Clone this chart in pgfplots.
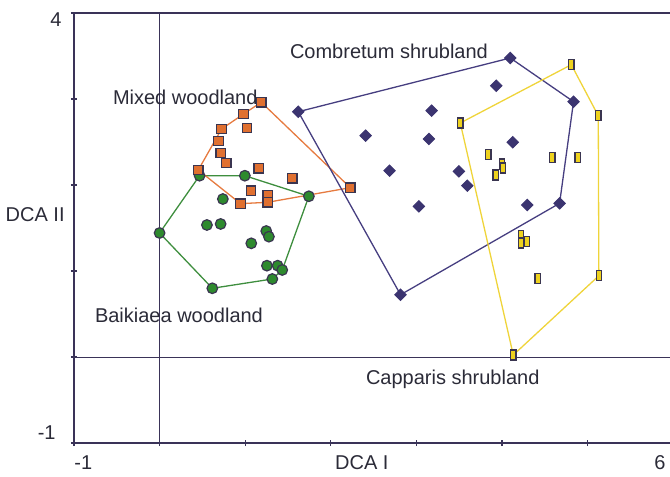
\documentclass[border=0pt]{standalone}
\usepackage{pgfplots}
\pgfplotsset{compat=1.18}
\usepackage{fontspec}
\setmainfont{Liberation Sans}
\definecolor{axc}{HTML}{3A3358}
\definecolor{txt}{HTML}{2B2B38}
\definecolor{orf}{HTML}{E07030}
\definecolor{orl}{HTML}{E67B40}
\definecolor{grf}{HTML}{2E8A2E}
\definecolor{grl}{HTML}{3E8E3E}
\definecolor{nvf}{HTML}{3B3470}
\definecolor{nvl}{HTML}{463E80}
\definecolor{ylf}{HTML}{EED21E}
\definecolor{yll}{HTML}{EFD43A}
\definecolor{mkb}{HTML}{3A3550}
\begin{document}
\begin{tikzpicture}
\begin{axis}[
  scale only axis, width=298pt, height=215pt,
  xmin=-1, xmax=5.963, ymin=-1, ymax=4,
  axis x line=box, axis y line=left,
  axis line style={-, draw=axc, line width=0.7pt},
  xtick={-1,0,1,2,3,4,5}, ytick={-1,0,1,2,3,4},
  xtick pos=bottom, ytick pos=left,
  tick align=center, major tick length=3pt,
  tick style={draw=axc, line width=0.6pt},
  xticklabels={}, yticklabels={},
  clip=false,
  font=\fontsize{10}{12}\selectfont,
]
% reference lines
\addplot[draw=axc, line width=0.4pt] coordinates {(0,-1) (0,4)};
\addplot[draw=axc, line width=0.4pt] coordinates {(-1,0) (5.963,0)};
% Baikiaea woodland hull
\addplot[draw=grl, line width=0.65pt] coordinates {
(0.467,2.108) (0.996,2.108) (1.744,1.869) (1.433,1.012) (1.317,0.907) (0.616,0.799) (0,1.442) (0.467,2.108)};
\addplot[only marks, mark=*, mark size=2.65pt, mark options={fill=grf, draw=mkb, line width=0.6pt}] coordinates {
(0.467,2.108) (0.996,2.108) (1.744,1.869) (0,1.442) (0.739,1.837) (0.553,1.535) (0.713,1.547)
(1.246,1.465) (1.277,1.399) (1.071,1.322) (1.254,1.062) (1.379,1.062) (1.433,1.012) (1.317,0.907) (0.616,0.799)};
% Mixed woodland hull
\addplot[draw=orl, line width=0.65pt] coordinates {
(0.452,2.174) (0.724,2.651) (0.981,2.826) (1.188,2.962) (2.228,1.969) (1.262,1.799) (0.946,1.783) (0.452,2.174)};
\addplot[only marks, mark=square*, mark size=2.35pt, mark options={fill=orf, draw=mkb, line width=0.6pt}] coordinates {
(1.188,2.962) (0.981,2.826) (1.020,2.663) (0.724,2.651) (0.689,2.512) (0.713,2.372) (0.779,2.256)
(0.452,2.174) (1.157,2.194) (1.550,2.078) (2.228,1.969) (1.067,1.934) (1.262,1.884) (1.262,1.799) (0.946,1.783)};
% Combretum shrubland hull
\addplot[draw=nvl, line width=0.65pt] coordinates {
(1.620,2.852) (4.097,3.477) (4.836,2.969) (4.673,1.787) (2.815,0.724) (1.620,2.852)};
\addplot[only marks, mark=square*, mark size=2.0pt, mark options={rotate=45, fill=nvf, draw=nvf, line width=0.5pt}] coordinates {
(4.097,3.477) (4.836,2.969) (1.620,2.852) (3.933,3.155) (3.178,2.864) (2.407,2.573) (3.146,2.535)
(4.127,2.497) (2.687,2.166) (3.497,2.159) (3.595,1.992) (3.029,1.752) (4.296,1.767) (4.673,1.787) (2.815,0.724)};
% Capparis shrubland hull
\addplot[draw=yll, line width=0.65pt] coordinates {
(3.513,2.721) (4.810,3.399) (5.125,2.806) (5.132,0.945) (4.132,0.023) (3.513,2.721)};
\addplot[only marks, mark=square*, mark size=2.5pt, mark options={xscale=0.53, fill=ylf, draw=mkb, line width=0.7pt}] coordinates {
(4.810,3.399) (5.125,2.806) (3.513,2.721) (3.840,2.357) (4.588,2.317) (4.883,2.317) (3.999,2.244)
(4.011,2.198) (3.925,2.116) (4.221,1.410) (4.291,1.345) (4.221,1.326) (4.419,0.915) (5.132,0.945) (4.132,0.023)};
% group labels
\node[anchor=west, text=txt, inner sep=0pt] at (axis cs:-0.549,3.023) {Mixed woodland};
\node[anchor=west, text=txt, inner sep=0pt] at (axis cs:1.519,3.558) {Combretum shrubland};
\node[anchor=west, text=txt, inner sep=0pt] at (axis cs:-0.759,0.488) {Baikiaea woodland};
\node[anchor=west, text=txt, inner sep=0pt] at (axis cs:2.407,-0.256) {Capparis shrubland};
% tick labels and axis titles
\node[anchor=west, text=txt, inner sep=0pt, yshift=-10pt] at (rel axis cs:0,0) {-1};
\node[anchor=east, text=txt, inner sep=0pt, yshift=-10pt, xshift=-2pt] at (rel axis cs:1,0) {6};
\node[anchor=east, text=txt, inner sep=0pt, xshift=-6pt, yshift=-3.5pt] at (rel axis cs:0,1) {4};
\node[anchor=east, text=txt, inner sep=0pt, xshift=-9pt, yshift=5pt] at (rel axis cs:0,0) {-1};
\node[text=txt, inner sep=0pt, yshift=-10pt] at (rel axis cs:0.483,0) {DCA I};
\node[anchor=east, text=txt, inner sep=0pt, xshift=-4.5pt] at (rel axis cs:0,0.53) {DCA II};
\end{axis}
\pgfresetboundingbox
\path (current axis.south west) ++(-37pt,-17pt) rectangle ++(335pt,238.5pt);
\end{tikzpicture}
\end{document}
